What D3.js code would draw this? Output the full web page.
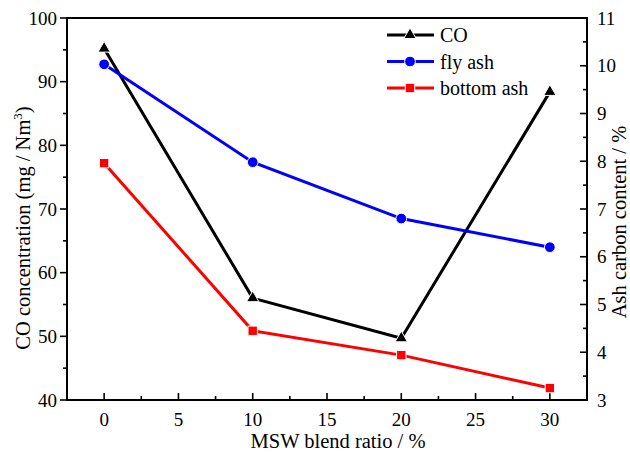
<!DOCTYPE html>
<html>
<head>
<meta charset="utf-8">
<script src="https://cdn.jsdelivr.net/npm/d3@7/dist/d3.min.js"></script>
<style>
  body { margin: 0; background: #fff; }
  svg { display: block; font-family: "Liberation Serif", "Times New Roman", serif; }
</style>
</head>
<body>
<svg id="chart" width="630" height="452"></svg>
<script>
// blend ratio (%)
var blendRatio = [0, 10, 20, 30];
// CO concentration, mg/Nm3 (left axis)
var coValues = [95.2, 56.0, 49.7, 88.4];
// ash carbon content, % (right axis)
var flyAsh = [10.03, 7.98, 6.8, 6.2];
var bottomAsh = [7.96, 4.45, 3.94, 3.25];

var xTicks = [0, 5, 10, 15, 20, 25, 30];
var leftTicks = [40, 50, 60, 70, 80, 90, 100];
var rightTicks = [3, 4, 5, 6, 7, 8, 9, 10, 11];

(function() {
var svg = d3.select("#chart");
var pl = 67, pr = 587, pt = 18, pb = 400;

var x = d3.scaleLinear().domain([-2.5, 32.5]).range([pl, pr]);
var yL = d3.scaleLinear().domain([40, 100]).range([pb, pt]);
var yR = d3.scaleLinear().domain([3, 11]).range([pb, pt]);

// minor ticks
var xMinor = d3.range(-2.5, 33, 5);
var yLMinor = d3.range(45, 100, 10);
var yRMinor = d3.range(3.5, 11, 1);

var g = svg.append("g");

// bottom axis: ticks point inward
g.selectAll(".xmaj").data(xTicks).enter().append("line")
  .attr("x1", d => x(d)).attr("x2", d => x(d))
  .attr("y1", pb).attr("y2", pb - 7)
  .attr("stroke", "#000").attr("stroke-width", 1.6);
g.selectAll(".xmin").data(xMinor).enter().append("line")
  .attr("x1", d => x(d)).attr("x2", d => x(d))
  .attr("y1", pb).attr("y2", pb - 4)
  .attr("stroke", "#000").attr("stroke-width", 1.6);
g.selectAll(".xlab").data(xTicks).enter().append("text")
  .attr("x", d => x(d)).attr("y", pb + 26)
  .attr("text-anchor", "middle").attr("font-size", 19)
  .text(d => d);

// left axis: ticks point outward
g.selectAll(".ylmaj").data(leftTicks).enter().append("line")
  .attr("x1", pl).attr("x2", pl - 7)
  .attr("y1", d => yL(d)).attr("y2", d => yL(d))
  .attr("stroke", "#000").attr("stroke-width", 1.6);
g.selectAll(".ylmin").data(yLMinor).enter().append("line")
  .attr("x1", pl).attr("x2", pl - 4)
  .attr("y1", d => yL(d)).attr("y2", d => yL(d))
  .attr("stroke", "#000").attr("stroke-width", 1.6);
g.selectAll(".yllab").data(leftTicks).enter().append("text")
  .attr("x", pl - 10).attr("y", d => yL(d) + 6.5)
  .attr("text-anchor", "end").attr("font-size", 19)
  .text(d => d);

// right axis: ticks point inward
g.selectAll(".yrmaj").data(rightTicks).enter().append("line")
  .attr("x1", pr).attr("x2", pr - 7)
  .attr("y1", d => yR(d)).attr("y2", d => yR(d))
  .attr("stroke", "#000").attr("stroke-width", 1.6);
g.selectAll(".yrmin").data(yRMinor).enter().append("line")
  .attr("x1", pr).attr("x2", pr - 4)
  .attr("y1", d => yR(d)).attr("y2", d => yR(d))
  .attr("stroke", "#000").attr("stroke-width", 1.6);
g.selectAll(".yrlab").data(rightTicks).enter().append("text")
  .attr("x", pr + 10).attr("y", d => yR(d) + 6.5)
  .attr("text-anchor", "start").attr("font-size", 19)
  .text(d => d);

// frame
g.append("rect")
  .attr("x", pl).attr("y", pt)
  .attr("width", pr - pl).attr("height", pb - pt)
  .attr("fill", "none").attr("stroke", "#000").attr("stroke-width", 2);

// axis titles
svg.append("text")
  .attr("x", 338).attr("y", 448)
  .attr("text-anchor", "middle").attr("font-size", 20.5)
  .text("MSW blend ratio / %");

var lt = svg.append("text")
  .attr("transform", "translate(30,228) rotate(-90)")
  .attr("text-anchor", "middle").attr("font-size", 20.5);
lt.append("tspan").text("CO concentration (mg / Nm");
lt.append("tspan").attr("dy", -8).attr("font-size", 13).text("3");
lt.append("tspan").attr("dy", 8).text(")");

svg.append("text")
  .attr("transform", "translate(626,222) rotate(-90)")
  .attr("text-anchor", "middle").attr("font-size", 20.5)
  .text("Ash carbon content / %");

// series
var series = [
  { name: "CO", vals: coValues, y: yL, color: "#000", shape: d3.symbolTriangle, size: 66 },
  { name: "fly ash", vals: flyAsh, y: yR, color: "#0000ff", shape: d3.symbolCircle, size: 90 },
  { name: "bottom ash", vals: bottomAsh, y: yR, color: "#ff0000", shape: d3.symbolSquare, size: 88 }
];

series.forEach(function(s) {
  var line = d3.line()
    .x((d, i) => x(blendRatio[i]))
    .y(d => s.y(d));
  svg.append("path")
    .attr("d", line(s.vals))
    .attr("fill", "none").attr("stroke", s.color).attr("stroke-width", 3);
  svg.selectAll(null).data(s.vals).enter().append("path")
    .attr("d", d3.symbol().type(s.shape).size(s.size))
    .attr("transform", (d, i) => "translate(" + x(blendRatio[i]) + "," + s.y(d) + ")")
    .attr("fill", s.color).attr("stroke", "#fff").attr("stroke-width", 1);
});

// legend
var leg = svg.append("g");
series.forEach(function(s, i) {
  var ly = 35 + i * 26.5;
  leg.append("line")
    .attr("x1", 387).attr("x2", 434).attr("y1", ly).attr("y2", ly)
    .attr("stroke", s.color).attr("stroke-width", 3);
  leg.append("path")
    .attr("d", d3.symbol().type(s.shape).size(s.size))
    .attr("transform", "translate(410," + ly + ")")
    .attr("fill", s.color).attr("stroke", "#fff").attr("stroke-width", 1);
  leg.append("text")
    .attr("x", 440).attr("y", ly + 7)
    .attr("font-size", 20)
    .text(s.name);
});
})();
</script>
</body>
</html>
